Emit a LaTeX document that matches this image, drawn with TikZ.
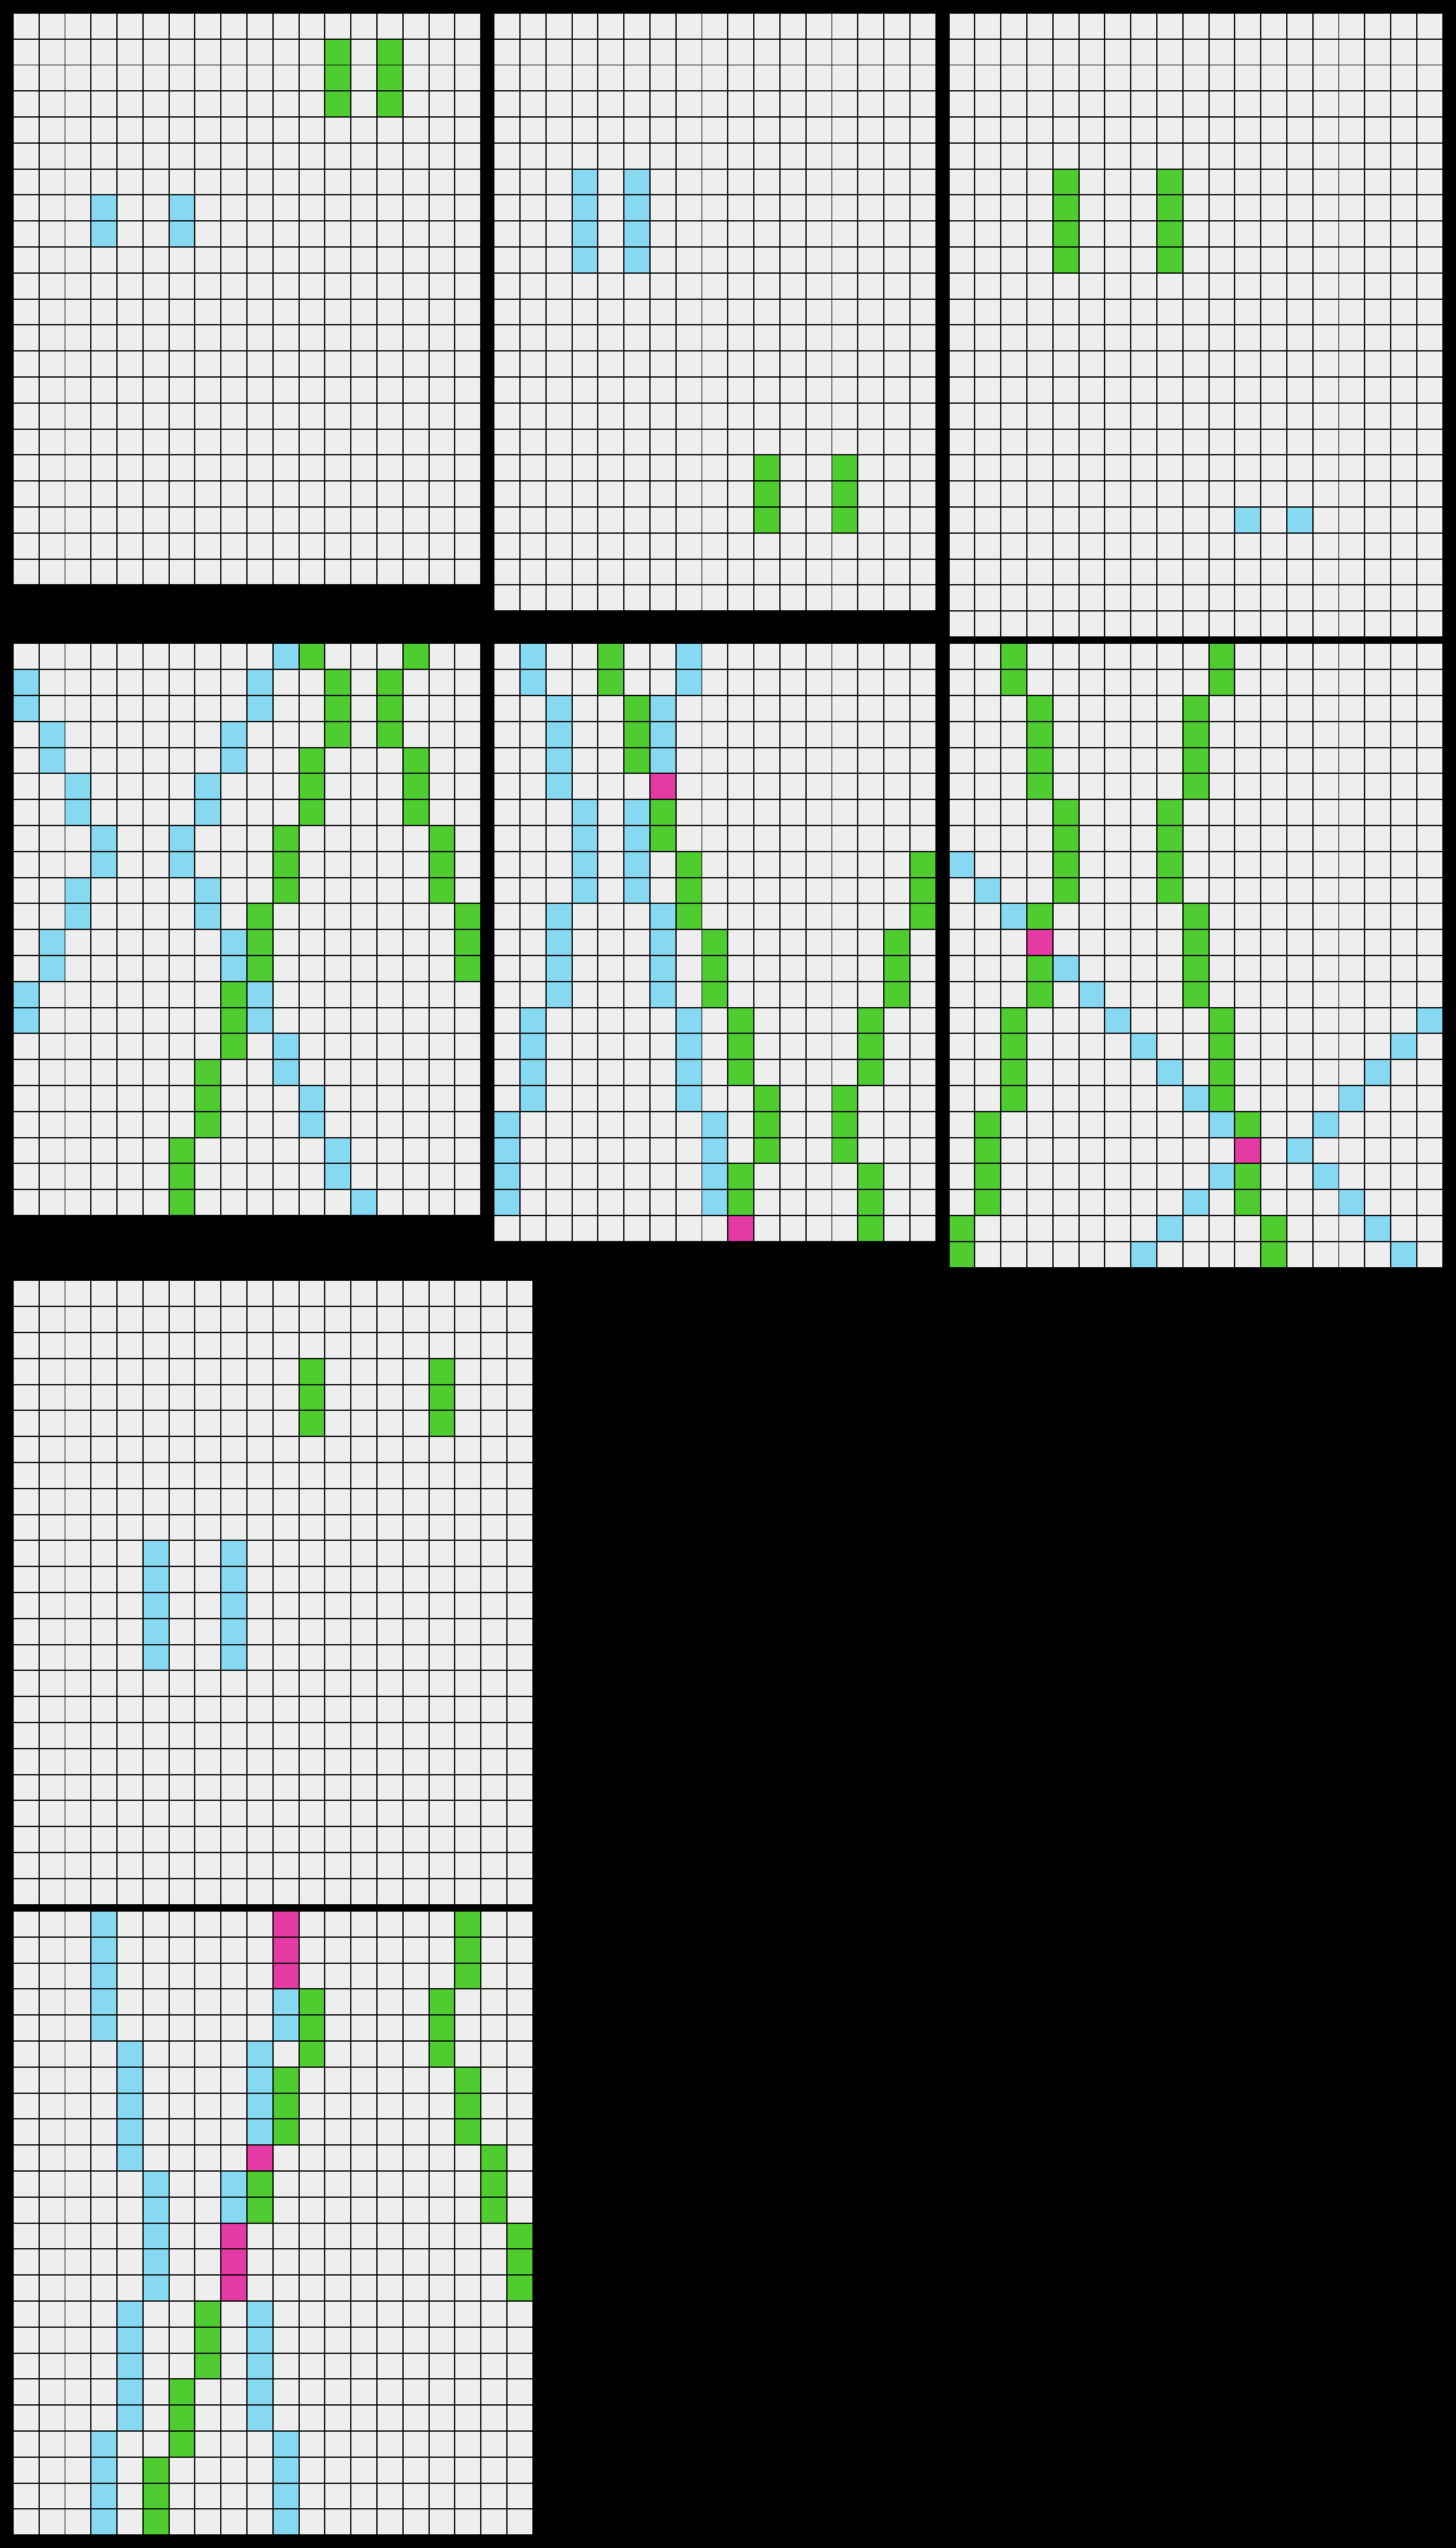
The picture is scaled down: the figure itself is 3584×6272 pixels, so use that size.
\documentclass[tikz,border=0pt]{standalone}
\definecolor{cellbg}{HTML}{EEEEEE}
\definecolor{gn}{HTML}{4FCC30}
\definecolor{bl}{HTML}{87D8F1}
\definecolor{mg}{HTML}{E53AA3}
\tikzset{gridline/.style={line width=3pt, draw=black, line cap=rect}}
% #1,#2: top-left corner in px; #3 cols; #4 rows; #5 runs col/firstrow/lastrow/colour
\newcommand\arcgrid[5]{%
\begin{scope}[shift={(#1pt,-#2pt)}, x=64pt, y=-64pt]
\fill[cellbg] (0,0) rectangle (#3,#4);
\foreach \cc/\ra/\rb/\kk in {#5} {\fill[\kk] (\cc,\ra) rectangle (\cc+1,\rb+1);}
\foreach \ii in {0,...,#3} {\draw[gridline] (\ii,0) -- (\ii,#4);}
\foreach \jj in {0,...,#4} {\draw[gridline] (0,\jj) -- (#3,\jj);}
\end{scope}}
\begin{document}
\begin{tikzpicture}
\fill[black] (0,0) rectangle (3584pt,-6272pt);
\useasboundingbox (0,0) rectangle (3584pt,-6272pt);
% example 1 input
\arcgrid{32}{32}{18}{22}{12/1/3/gn, 14/1/3/gn, 3/7/8/bl, 6/7/8/bl}
% example 2 input
\arcgrid{1216}{32}{17}{23}{3/6/9/bl, 5/6/9/bl, 10/17/19/gn, 13/17/19/gn}
% example 3 input
\arcgrid{2336}{32}{19}{24}{4/6/9/gn, 8/6/9/gn, 11/19/19/bl, 13/19/19/bl}
% example 1 output
\arcgrid{32}{1584}{18}{22}{0/1/2/bl, 1/3/4/bl, 2/5/6/bl, 3/7/8/bl, 2/9/10/bl, 1/11/12/bl, 0/13/14/bl,
 10/0/0/bl, 9/1/2/bl, 8/3/4/bl, 7/5/6/bl, 6/7/8/bl, 7/9/10/bl, 8/11/12/bl, 9/13/14/bl, 10/15/16/bl, 11/17/18/bl, 12/19/20/bl, 13/21/21/bl,
 11/0/0/gn, 12/1/3/gn, 11/4/6/gn, 10/7/9/gn, 9/10/12/gn, 8/13/15/gn, 7/16/18/gn, 6/19/21/gn,
 15/0/0/gn, 14/1/3/gn, 15/4/6/gn, 16/7/9/gn, 17/10/12/gn}
% example 2 output
\arcgrid{1216}{1584}{17}{23}{1/0/1/bl, 2/2/5/bl, 3/6/9/bl, 2/10/13/bl, 1/14/17/bl, 0/18/21/bl,
 7/0/1/bl, 6/2/4/bl, 5/6/9/bl, 6/10/13/bl, 7/14/17/bl, 8/18/21/bl,
 6/5/5/mg, 9/22/22/mg,
 4/0/1/gn, 5/2/4/gn, 6/6/7/gn, 7/8/10/gn, 8/11/13/gn, 9/14/16/gn, 10/17/19/gn, 9/20/21/gn,
 16/8/10/gn, 15/11/13/gn, 14/14/16/gn, 13/17/19/gn, 14/20/22/gn}
% example 3 output
\arcgrid{2336}{1584}{19}{24}{2/0/1/gn, 3/2/5/gn, 4/6/9/gn, 3/10/10/gn, 3/12/13/gn, 2/14/17/gn, 1/18/21/gn, 0/22/23/gn,
 10/0/1/gn, 9/2/5/gn, 8/6/9/gn, 9/10/13/gn, 10/14/17/gn, 11/18/18/gn, 11/20/21/gn, 12/22/23/gn,
 3/11/11/mg, 11/19/19/mg,
 0/8/8/bl, 1/9/9/bl, 2/10/10/bl, 4/12/12/bl, 5/13/13/bl, 6/14/14/bl, 7/15/15/bl, 8/16/16/bl, 9/17/17/bl, 10/18/18/bl,
 10/20/20/bl, 9/21/21/bl, 8/22/22/bl, 7/23/23/bl,
 18/14/14/bl, 17/15/15/bl, 16/16/16/bl, 15/17/17/bl, 14/18/18/bl, 13/19/19/bl, 14/20/20/bl, 15/21/21/bl, 16/22/22/bl, 17/23/23/bl}
% test input
\arcgrid{32}{3152}{20}{24}{11/3/5/gn, 16/3/5/gn, 5/10/14/bl, 8/10/14/bl}
% test output
\arcgrid{32}{4704}{20}{24}{3/0/4/bl, 4/5/9/bl, 5/10/14/bl, 4/15/19/bl, 3/20/23/bl,
 10/3/4/bl, 9/5/8/bl, 8/10/11/bl, 9/15/19/bl, 10/20/23/bl,
 10/0/2/mg, 9/9/9/mg, 8/12/14/mg,
 11/3/5/gn, 10/6/8/gn, 9/10/11/gn, 7/15/17/gn, 6/18/20/gn, 5/21/23/gn,
 17/0/2/gn, 16/3/5/gn, 17/6/8/gn, 18/9/11/gn, 19/12/14/gn}
\end{tikzpicture}
\end{document}
